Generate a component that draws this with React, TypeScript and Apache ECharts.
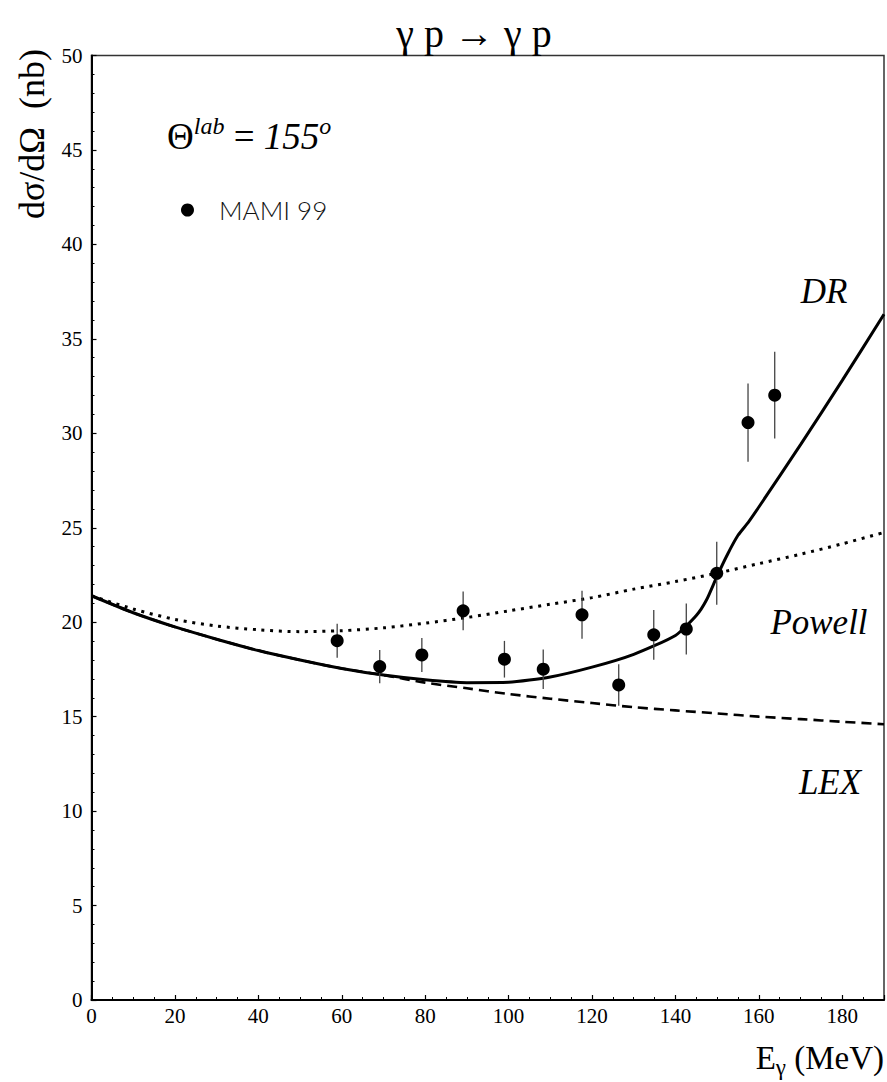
import React, { useEffect, useRef } from 'react';
import * as echarts from 'echarts';

// MAMI 99 data points
const energies = [58.9, 69.1, 79.2, 89.1, 99.0, 108.3, 117.6, 126.4, 134.8, 142.6, 149.9, 157.4, 163.8];
const sigma = [19.02, 17.65, 18.27, 20.6, 18.04, 17.51, 20.39, 16.68, 19.33, 19.64, 22.59, 30.57, 32.02];
const errors = [0.9, 0.88, 0.9, 1.03, 0.97, 1.05, 1.27, 1.1, 1.32, 1.35, 1.67, 2.07, 2.3];

// DR curve
const drE = [0, 10, 20, 30, 40, 50, 60, 70, 80, 90, 100, 110, 120, 130, 140, 145, 147.5, 150, 152.5, 155, 157.5, 160, 170, 180, 190];
const drV = [21.4, 20.5, 19.75, 19.1, 18.5, 18.0, 17.55, 17.2, 16.95, 16.8, 16.82, 17.1, 17.62, 18.3, 19.3, 20.35, 21.2, 22.45, 23.6, 24.6, 25.3, 26.1, 29.4, 32.8, 36.3];

// Powell and LEX curves
const curveE = [0, 10, 20, 30, 40, 50, 60, 70, 80, 90, 100, 110, 120, 130, 140, 150, 160, 170, 180, 190];
const powellV = [21.4, 20.7, 20.15, 19.8, 19.6, 19.5, 19.55, 19.7, 19.95, 20.25, 20.6, 20.95, 21.3, 21.75, 22.15, 22.6, 23.1, 23.6, 24.15, 24.75];
const lexV = [21.4, 20.5, 19.75, 19.1, 18.5, 18.0, 17.55, 17.2, 16.8, 16.5, 16.2, 15.95, 15.72, 15.5, 15.33, 15.17, 15.0, 14.87, 14.73, 14.6];

const SERIF = 'Liberation Serif';

export default function App() {
  const ref = useRef<HTMLDivElement>(null);
  useEffect(() => {
    const chart = echarts.init(ref.current!, null, { renderer: 'svg' });
    const pair = (xs: number[], ys: number[]) => xs.map((x, i) => [x, ys[i]]);
    const option: any = {
      animation: false,
      backgroundColor: '#fff',
      textStyle: { fontFamily: SERIF },
      title: {
        text: 'γ p → γ p',
        left: 469,
        top: 8,
        textAlign: 'center',
        textStyle: { fontFamily: SERIF, fontSize: 40, fontWeight: 'normal', color: '#000' },
      },
      legend: {
        data: ['MAMI 99'],
        left: 176,
        top: 192,
        itemWidth: 13,
        itemHeight: 13,
        icon: 'circle',
        itemStyle: { color: '#000', opacity: 1 },
        textStyle: { fontFamily: 'Lato', fontWeight: 300, fontSize: 26, color: '#111', padding: [0, 0, 0, 20] },
      },
      grid: {
        left: 91.5,
        top: 55.5,
        right: 2.5,
        bottom: 82,
        show: true,
        borderColor: '#333',
        borderWidth: 1.5,
        backgroundColor: 'transparent',
      },
      xAxis: {
        type: 'value',
        min: 0,
        max: 190,
        interval: 20,
        axisLine: { show: true, onZero: false, lineStyle: { color: '#000', width: 2 } },
        axisTick: { show: true, inside: true, length: 5, lineStyle: { color: '#000', width: 1.2 } },
        minorTick: { show: true, splitNumber: 4, length: 3, lineStyle: { color: '#000', width: 1 } },
        splitLine: { show: false },
        axisLabel: {
          fontFamily: SERIF,
          fontSize: 21,
          color: '#000',
          margin: 5,
          formatter: (v: number) => (v % 20 === 0 ? String(v) : ''),
        },
      },
      yAxis: {
        type: 'value',
        min: 0,
        max: 50,
        interval: 5,
        axisLine: { show: true, onZero: false, lineStyle: { color: '#000', width: 2 } },
        axisTick: { show: true, inside: true, length: 5, lineStyle: { color: '#000', width: 1.2 } },
        minorTick: { show: true, splitNumber: 5, length: 3, lineStyle: { color: '#000', width: 1 } },
        splitLine: { show: false },
        axisLabel: { fontFamily: SERIF, fontSize: 21, color: '#000', margin: 9 },
      },
      series: [
        {
          name: 'DR',
          type: 'line',
          data: pair(drE, drV),
          showSymbol: false,
          symbol: 'none',
          smooth: 0.2,
          lineStyle: { color: '#000', width: 3, type: 'solid' },
          z: 3,
        },
        {
          name: 'Powell',
          type: 'line',
          data: pair(curveE, powellV),
          showSymbol: false,
          symbol: 'none',
          smooth: 0.3,
          lineStyle: { color: '#000', width: 3, type: [3, 5.7], cap: 'butt' },
          z: 3,
        },
        {
          name: 'LEX',
          type: 'line',
          data: pair(curveE, lexV),
          showSymbol: false,
          symbol: 'none',
          smooth: 0.3,
          lineStyle: { color: '#000', width: 2.6, type: [10, 6], cap: 'butt' },
          z: 3,
        },
        {
          name: 'errors',
          type: 'custom',
          data: energies.map((e, i) => [e, sigma[i] - errors[i], sigma[i] + errors[i]]),
          encode: { x: 0, y: [1, 2] },
          renderItem: (params: any, api: any) => {
            const x = api.value(0);
            const p1 = api.coord([x, api.value(1)]);
            const p2 = api.coord([x, api.value(2)]);
            return {
              type: 'line',
              shape: { x1: p1[0], y1: p1[1], x2: p2[0], y2: p2[1] },
              style: { stroke: '#444', lineWidth: 1.3 },
            };
          },
          z: 4,
        },
        {
          name: 'MAMI 99',
          type: 'scatter',
          data: pair(energies, sigma),
          symbol: 'circle',
          symbolSize: 13,
          itemStyle: { color: '#000', opacity: 1 },
          z: 5,
        },
      ],
      graphic: [
        {
          type: 'text',
          x: 32,
          y: 134,
          rotation: Math.PI / 2,
          style: {
            text: 'dσ/dΩ  (nb)',
            fontFamily: SERIF,
            fontSize: 36,
            fill: '#000',
            align: 'center',
            verticalAlign: 'middle',
          },
        },
        {
          type: 'text',
          x: 167,
          y: 136,
          style: {
            text: '{a|Θ}{s|lab}{a| = }{i|155}{s|o}',
            align: 'left',
            verticalAlign: 'middle',
            rich: {
              a: { fontFamily: SERIF, fontSize: 37, lineHeight: 44, fill: '#000' },
              i: { fontFamily: SERIF, fontSize: 37, fontStyle: 'italic', lineHeight: 44, fill: '#000' },
              s: { fontFamily: SERIF, fontSize: 24, fontStyle: 'italic', verticalAlign: 'top', lineHeight: 24, fill: '#000' },
            },
          },
        },
        {
          type: 'text',
          x: 824,
          y: 291,
          style: { text: 'DR', fontFamily: SERIF, fontSize: 35, fontStyle: 'italic', fill: '#000', align: 'center', verticalAlign: 'middle' },
        },
        {
          type: 'text',
          x: 819,
          y: 622,
          style: { text: 'Powell', fontFamily: SERIF, fontSize: 35, fontStyle: 'italic', fill: '#000', align: 'center', verticalAlign: 'middle' },
        },
        {
          type: 'text',
          x: 830,
          y: 782,
          style: { text: 'LEX', fontFamily: SERIF, fontSize: 35, fontStyle: 'italic', fill: '#000', align: 'center', verticalAlign: 'middle' },
        },
        {
          type: 'text',
          x: 884,
          y: 1058,
          style: {
            text: '{e|E}{g|γ}{e| (MeV)}',
            align: 'right',
            verticalAlign: 'middle',
            rich: {
              e: { fontFamily: SERIF, fontSize: 33, lineHeight: 42, fill: '#000' },
              g: { fontFamily: SERIF, fontSize: 23, lineHeight: 23, verticalAlign: 'bottom', fill: '#000' },
            },
          },
        },
      ],
    };
    chart.setOption(option);
    return () => chart.dispose();
  }, []);
  return <div ref={ref} style={{ position: 'fixed', left: 0, top: 0, width: 887, height: 1082 }} />;
}
